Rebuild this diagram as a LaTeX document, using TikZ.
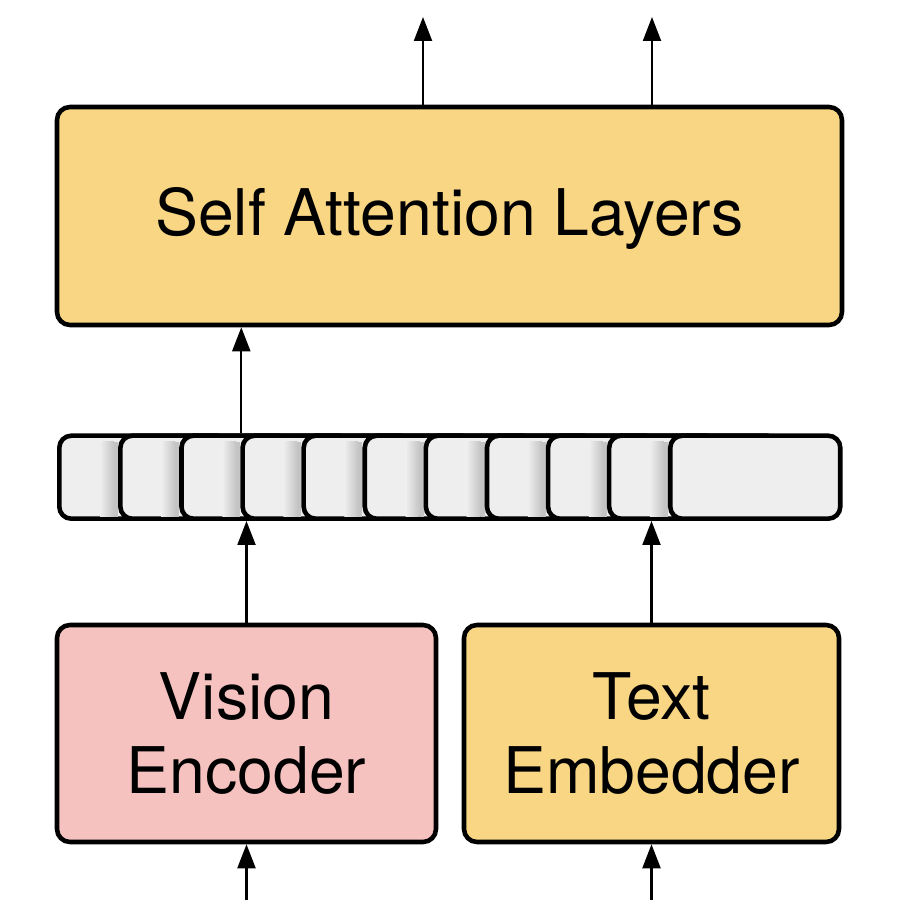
\documentclass[tikz,border=0pt]{standalone}
\usepackage{fontspec}
\setmainfont{TeX Gyre Heros}
\usetikzlibrary{arrows.meta,positioning}
\definecolor{layeryellow}{HTML}{F8D683}
\definecolor{visionpink}{HTML}{F5C2C0}
\definecolor{tokengray}{HTML}{EEEEEE}
\definecolor{shadowgray}{HTML}{C4C4C4}
\tikzset{
	block/.style={draw,line width=1.3pt,rounded corners=0.13cm,align=center,
		font=\fontsize{18.3}{21}\selectfont},
	token/.style={draw,line width=1.3pt,rounded corners=0.12cm,fill=tokengray,
		minimum width=1.7cm,minimum height=0.83cm,anchor=south west,inner sep=0},
	arr/.style={-{Triangle[length=2.4mm,width=1.8mm]},line width=0.6pt},
}
\begin{document}
\begin{tikzpicture}
		\useasboundingbox (0,0) rectangle (9,9);
		\node [block,fill=layeryellow,minimum width=7.85cm,minimum height=2.18cm,text depth=0.1cm] at (4.495,6.84) (sal) {Self Attention Layers};
		\node [block,fill=visionpink,minimum width=3.79cm,minimum height=2.17cm] at (2.465,1.665) (enc) {Vision\\Encoder};
		\node [block,fill=layeryellow,minimum width=3.75cm,minimum height=2.17cm] at (6.515,1.665) (emb) {Text\\Embedder};
		% token strip
		\foreach \i in {0,...,10}{
			\ifnum\i>0
				\shade [left color=tokengray,right color=shadowgray] (0.57+0.611*\i-0.18,3.83) rectangle (0.57+0.611*\i-0.04,4.58);
				\fill [shadowgray] (0.57+0.611*\i-0.04,3.83) rectangle (0.57+0.611*\i,4.58);
			\fi
			\node [token] at (0.57+0.611*\i,3.79) (t\i) {};
			}
		\coordinate (in1) at (enc.north |- 0,0); \coordinate (in2) at (emb.north |- 0,0);
		\coordinate (out1) at (4.23,8.83); \coordinate (out2) at (6.52,8.83);
		\draw [arr] (in1) -- (enc.south);
		\draw [arr] (in2) -- (emb.south);
		\draw [arr] (enc.north) -- (enc.north |- t3.south);
		\draw [arr] (emb.north) -- (emb.north |- t9.south);
		\draw [arr] ([xshift=0.01cm]t3.north west) -- ([xshift=0.01cm]t3.north west |- sal.south);
		\draw [arr] (out1 |- sal.north) -- (out1);
		\draw [arr] (out2 |- sal.north) -- (out2);
	\end{tikzpicture}
\end{document}
